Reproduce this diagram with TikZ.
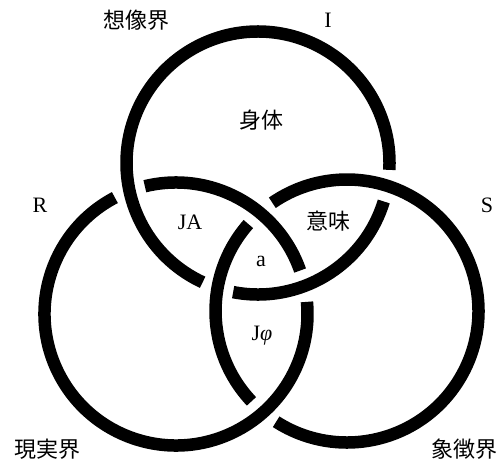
\documentclass[tikz,border=0pt]{standalone}
\usepackage{fontspec}
\setmainfont{Liberation Serif}
\newfontfamily\cjk{Noto Sans CJK JP}
\usetikzlibrary{calc}
\begin{document}
\begin{tikzpicture}[x=1pt,y=1pt,
  ring/.style={line width=12.5pt,draw=black,line cap=butt},
  lat/.style={font=\fontsize{22}{22}\selectfont,anchor=base,inner sep=0pt},
  jp/.style={font=\cjk\fontsize{22}{22}\selectfont,inner sep=0pt}]
\useasboundingbox (0,0) rectangle (500,466);
\def\rr{131.5}
\coordinate (T) at (258,303);
\coordinate (L) at (176,152);
\coordinate (R) at (347,155);
% top ring (imaginary): gaps at -107.9 and -10
\draw[ring] ([shift={(-3:\rr)}]T) arc[start angle=-3,end angle=245.1,radius=\rr];
\draw[ring] ([shift={(-100.9:\rr)}]T) arc[start angle=-100.9,end angle=-17,radius=\rr];
% left ring (real): gaps at 12.3 and 110.7
\draw[ring] ([shift={(19.3:\rr)}]L) arc[start angle=19.3,end angle=103.7,radius=\rr];
\draw[ring] ([shift={(117.7:\rr)}]L) arc[start angle=117.7,end angle=365.3,radius=\rr];
% right ring (symbolic): gaps at 131.6 and 230.4
\draw[ring] ([shift={(138.6:\rr)}]R) arc[start angle=138.6,end angle=223.4,radius=\rr];
\draw[ring] ([shift={(237.4:\rr)}]R) arc[start angle=237.4,end angle=484.6,radius=\rr];
% labels
\node[jp] (imag) at (136,446) {想像界};
\node[lat] (I) at (328,438) {I};
\node[lat] (Rl) at (40,253) {R};
\node[lat] (Sl) at (487,253) {S};
\node[jp] (body) at (261,346) {身体};
\node[lat] (JA) at (190,236) {JA};
\node[jp] (sense) at (328,245) {意味};
\node[lat] (a) at (261,199) {a};
\node[lat] (Jphi) at (262,126) {J{\itshape φ}};
\node[jp] (real) at (47,17) {現実界};
\node[jp] (symb) at (464,17) {象徴界};
\end{tikzpicture}
\end{document}
